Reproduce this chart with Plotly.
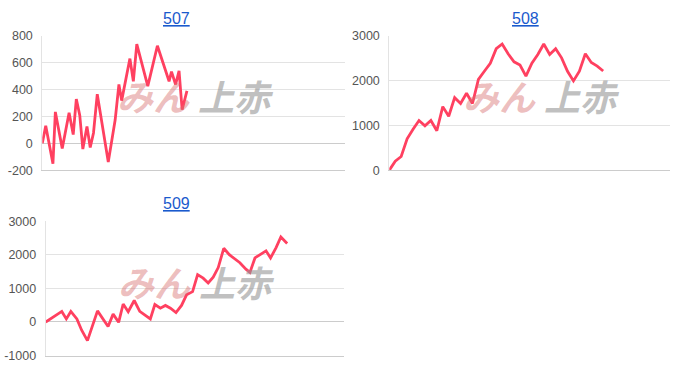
import plotly.graph_objects as go

# ---- data (x = position in play steps, y = medal difference) ----
titles = ["507", "508", "509"]

x507 = [0, 1, 3.1, 3.8, 5.8, 7.8, 9.0, 9.9, 10.9, 11.8, 13.0, 13.95, 14.9, 16.0, 19.2,
        20.3, 21.2, 22.3, 23.1, 25.5, 26.5, 27.5, 30.7, 33.5, 36.9, 37.6, 38.8, 39.8, 40.7, 42.1]
y507 = [0, 130, -152, 234, -38, 227, 65, 330, 210, -43, 126, -31, 77, 366, -139,
        53, 173, 438, 318, 631, 462, 739, 426, 727, 462, 534, 438, 539, 250, 390]

y508 = [0, 200, 305, 700, 915, 1110, 990, 1110, 880, 1420, 1205, 1620, 1490, 1720, 1490,
        2030, 2210, 2390, 2715, 2820, 2600, 2420, 2350, 2100, 2390, 2585, 2820, 2585, 2715,
        2510, 2210, 1995, 2210, 2600, 2405, 2325, 2215]
x508 = list(range(len(y508)))

x509 = [0, 3.2, 4.1, 5.0, 6.2, 7.15, 8.3, 10.3, 12.4, 13.4, 14.5, 15.4, 16.4, 17.6, 18.7,
        20.8, 21.7, 22.8, 23.8, 24.8, 25.9, 27.0, 28.0, 29.2, 30.2, 31.3, 32.3, 33.3, 34.3,
        35.4, 36.5, 37.6, 38.6, 39.8, 40.6, 41.6, 42.7, 43.8, 44.7, 45.8, 46.75, 48.0]
y509 = [0, 315, 92, 315, 92, -244, -555, 330, -135, 235, -10, 535, 305, 640, 315,
        92, 522, 410, 494, 410, 281, 494, 809, 904, 1412, 1306, 1162, 1334, 1621,
        2195, 2003, 1888, 1765, 1572, 1478, 1908, 2003, 2118, 1908, 2215, 2531, 2339]

xranges = [[0, 88.1], [0, 47.25], [0, 59.3]]
yranges = [[-200, 800], [0, 3000], [-1000, 3000]]
ytickvals = [[-200, 0, 200, 400, 600, 800], [0, 1000, 2000, 3000], [-1000, 0, 1000, 2000, 3000]]
yticktext = [["-200", "0", "200", "400", "600", "800"], ["0", "1000", "2000", "3000"],
             ["-1000", "0", "1000", "2000", "3000"]]

W, H = 700, 386
# panel pixel boxes (left, right, top, bottom)
boxes = [(42.3, 345, 30, 169.3), (389.3, 670, 30, 169.3), (45.7, 344, 222.3, 361.7)]

LINE = "#ff4060"
FONT = "Liberation Sans, Arial, sans-serif"

fig = go.Figure()
series = [(x507, y507), (x508, y508), (x509, y509)]
annotations = []
for i, ((xs, ys), (l, r, t, b)) in enumerate(zip(series, boxes)):
    n = "" if i == 0 else str(i + 1)
    fig.add_trace(go.Scatter(x=xs, y=ys, mode="lines", xaxis="x" + n, yaxis="y" + n,
                             line=dict(color=LINE, width=2.8), showlegend=False,
                             hoverinfo="skip"))
    fig.layout["xaxis" + n] = dict(domain=[l / W, r / W], range=xranges[i], anchor="y" + n,
                                   showticklabels=False, showgrid=False, zeroline=False,
                                   showline=True, linecolor="#cccccc", linewidth=1, ticks="")
    fig.layout["yaxis" + n] = dict(domain=[1 - b / H, 1 - t / H], range=yranges[i],
                                   anchor="x" + n, tickmode="array",
                                   tickvals=ytickvals[i], ticktext=yticktext[i],
                                   showgrid=True, gridcolor="#e3e3e3", gridwidth=1,
                                   zeroline=True, zerolinecolor="#cccccc", zerolinewidth=1,
                                   showline=True, linecolor="#e3e3e3", linewidth=1,
                                   ticks="", ticklabelstandoff=6,
                                   tickfont=dict(family=FONT, size=12.5, color="#555555"))
    cx = (l + r) / 2
    annotations.append(dict(text="<u>" + titles[i] + "</u>", x=(177 if i != 1 else 525) / W,
                            y=1 - (t - 18) / H, xref="paper", yref="paper",
                            showarrow=False, xanchor="center", yanchor="middle",
                            font=dict(family=FONT, size=16, color="#1a5acd")))
    # watermark
    wy = (t + b) / 2 - 8
    wx = cx + (10 if i == 1 else 0)
    annotations.append(dict(text="<b><i>みん</i></b>", x=(wx - 2) / W, y=1 - wy / H,
                            xref="paper", yref="paper", showarrow=False,
                            xanchor="right", yanchor="middle",
                            font=dict(family="Noto Sans CJK JP", size=36,
                                      color="rgba(215,110,110,0.45)")))
    annotations.append(dict(text="<b><i>上赤</i></b>", x=(wx + 2) / W, y=1 - wy / H,
                            xref="paper", yref="paper", showarrow=False,
                            xanchor="left", yanchor="middle",
                            font=dict(family="Noto Sans CJK JP", size=36,
                                      color="rgba(150,150,150,0.6)")))

fig.update_layout(width=W, height=H, autosize=False,
                  margin=dict(l=0, r=0, t=0, b=0),
                  paper_bgcolor="white", plot_bgcolor="white",
                  annotations=annotations)
fig.write_html("out.html")
